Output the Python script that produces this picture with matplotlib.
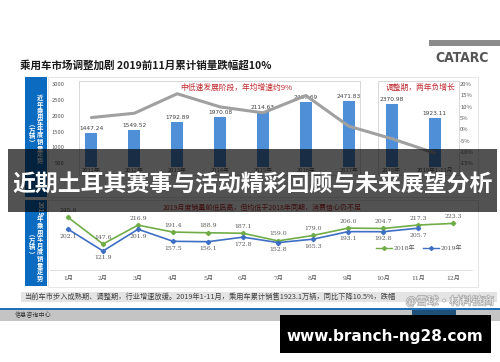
import matplotlib
matplotlib.use('Agg')
import matplotlib.pyplot as plt
from matplotlib.patches import Rectangle
from matplotlib.lines import Line2D
import matplotlib.patheffects as pe

plt.rcParams['font.family'] = ['Noto Sans CJK SC', 'DejaVu Sans']

W, H = 500, 362

# ---------------- data ----------------
years = ['2011年', '2012年', '2013年', '2014年', '2015年', '2016年', '2017年', '2018年', '2019年1-11月']
annual_sales = [1447.24, 1549.52, 1792.89, 1970.08, 2114.63, 2437.69, 2471.83, 2370.98, 1923.11]
annual_growth = [5.2, 7.1, 15.7, 9.9, 7.3, 14.9, 1.4, -4.1, -10.4]
left_ticks = [500, 1000, 1500, 2000, 2500, 3000]
right_ticks = [-15, -10, -5, 0, 5, 10, 15, 20]

months = ['1月', '2月', '3月', '4月', '5月', '6月', '7月', '8月', '9月', '10月', '11月', '12月']
sales_2018 = [245.6, 147.6, 216.9, 191.4, 188.9, 187.1, 159.0, 179.0, 206.0, 204.7, 217.3, 223.3]
sales_2019 = [202.1, 121.9, 201.9, 157.5, 156.1, 172.8, 152.8, 165.3, 193.1, 192.8, 205.7]
series_names = ['2018年', '2019年']

title = '乘用车市场调整加剧 2019前11月累计销量跌幅超10%'
note_growth = '中低速发展阶段，年均增速约9%'
note_adjust = '调整期，两年负增长'
note_monthly = '2019月度销量前低后高，但均低于2018年同期，消费信心仍不足'
side_top = '近年乘用车年度销量走势'
side_bottom = '年乘用车月度销量走势'
unit = '︵万辆︶'
footer = '当前车市步入成熟期、调整期，行业增速放缓。2019年1-11月，乘用车累计销售1923.1万辆，同比下降10.5%，跌幅'
banner = '近期土耳其赛事与活动精彩回顾与未来展望分析'
url = 'www.branch-ng28.com'

SERIF = ['DejaVu Serif', 'Noto Sans CJK SC']

fig = plt.figure(figsize=(5, 3.62), dpi=100)
fig.patch.set_facecolor('white')


def fx(x):
    return x / W


def fy(y):
    return 1 - y / H


def pbox(l, t, r, b):
    return [l / W, 1 - b / H, (r - l) / W, (b - t) / H]


def rect(l, t, r, b, **kw):
    p = Rectangle((fx(l), fy(b)), (r - l) / W, (b - t) / H, transform=fig.transFigure, **kw)
    fig.add_artist(p)
    return p


# ---------------- slide decorations ----------------
rect(429, 40, 500, 46, facecolor='#8c8c8c', edgecolor='none', zorder=1)
fig.text(fx(462), fy(58), 'CATARC', fontsize=10, fontweight='heavy', color='#555555',
         ha='center', va='center', family='DejaVu Sans', fontstretch='condensed')
fig.text(fx(20), fy(65), title, fontsize=7.6, fontweight='bold', color='#1a1a1a', ha='left', va='center')

# panels
rect(48, 77, 478, 197, facecolor='white', edgecolor='#e3e3e3', lw=0.6, zorder=0.5)
rect(48, 200, 478, 287, facecolor='white', edgecolor='#e3e3e3', lw=0.6, zorder=0.5)
# blue side labels
rect(25, 77, 46.5, 197, facecolor='#0a6bc0', edgecolor='none', zorder=1)
rect(25, 200, 46.5, 286, facecolor='#0a6bc0', edgecolor='none', zorder=1)


def vtext(x, y0, s, step, size, **kw):
    for i, ch in enumerate(s):
        fig.text(fx(x), fy(y0 + i * step), ch, fontsize=size, color='white', fontweight='bold',
                 ha='center', va='center', zorder=2, **kw)


vtext(40, 98, side_top, 6.2, 4.6)
vtext(32, 124, unit, 6.0, 4.6)
fig.text(fx(40), fy(209), '2019', fontsize=4.6, color='white', fontweight='bold', rotation=-90,
         ha='center', va='center', zorder=2)
vtext(40, 219, side_bottom, 6.6, 4.6)
vtext(32, 234, unit, 6.5, 4.6)

# ---------------- top chart ----------------
ax1 = fig.add_axes(pbox(70, 84, 456, 167))
ax1.set_zorder(2)
ax1.patch.set_alpha(0)
idx = list(range(len(years)))
ax1.bar(idx, annual_sales, width=0.28, color='#4f8fd8', zorder=2)
for i, v in zip(idx, annual_sales):
    ax1.annotate(f'{v:.2f}', (i, v), xytext=(0, 1.5), textcoords='offset points', ha='center',
                 va='bottom', fontsize=4.2, color='#404040', family='DejaVu Sans')
ax1.set_xlim(-0.5, 8.5)
ax1.set_ylim(383, 3000)
ax1.set_yticks(left_ticks)
ax1.set_yticklabels([str(t) for t in left_ticks])
ax1.set_xticks(idx)
ax1.set_xticklabels(years)
ax1.tick_params(axis='both', length=0, labelsize=4.2, labelcolor='#595959')
ax1.tick_params(axis='x', pad=1)
ax1.tick_params(axis='y', pad=4)
for s in ax1.spines.values():
    s.set_visible(False)

ax2 = ax1.twinx()
ax2.plot(idx, annual_growth, color='#a0a0a0', lw=2.2, zorder=3, solid_capstyle='round')
ax2.set_ylim(-16.6, 20)
ax2.set_yticks(right_ticks)
ax2.set_yticklabels([f'{t}%' for t in right_ticks])
ax2.tick_params(axis='y', length=0, labelsize=4.2, labelcolor='#595959', pad=3)
for s in ax2.spines.values():
    s.set_visible(False)

# dotted period boxes
rect(79, 81, 360, 175, facecolor='none', edgecolor='#a6a6a6', lw=0.6, ls=(0, (1.2, 1.2)), zorder=3)
rect(378, 81, 459, 175, facecolor='none', edgecolor='#a6a6a6', lw=0.6, ls=(0, (1.2, 1.2)), zorder=3)
fig.text(fx(236), fy(87.5), note_growth, fontsize=5.6, color='#c0282d', ha='center', va='center', zorder=4)
fig.text(fx(421), fy(87.5), note_adjust, fontsize=5.6, color='#c0282d', ha='center', va='center', zorder=4)

# ---------------- bottom chart ----------------
ax3 = fig.add_axes(pbox(50, 205, 472, 270))
ax3.set_zorder(2)
ax3.patch.set_alpha(0)
m_idx = list(range(len(months)))
c18, c19 = '#70ad47', '#3f6fc4'
ax3.plot(m_idx, sales_2018, color=c18, lw=1.2, marker='D', ms=2.2, zorder=3)
ax3.plot(m_idx[:len(sales_2019)], sales_2019, color=c19, lw=1.2, marker='D', ms=2.2, zorder=3)
for i, v in enumerate(sales_2018):
    ax3.annotate(f'{v:.1f}', (i, v), xytext=(0, 3.2), textcoords='offset points', ha='center',
                 va='bottom', fontsize=4.4, color='#595959', family=SERIF)
for i, v in enumerate(sales_2019):
    ax3.annotate(f'{v:.1f}', (i, v), xytext=(0, -3.2), textcoords='offset points', ha='center',
                 va='top', fontsize=4.4, color='#595959', family=SERIF)
ax3.set_xlim(-0.514, 11.54)
ax3.set_ylim(52, 291)
ax3.set_yticks([])
ax3.set_xticks(m_idx)
ax3.set_xticklabels(months, family=SERIF)
ax3.tick_params(axis='x', length=0, labelsize=4.4, labelcolor='#595959', pad=4)
for k, s in ax3.spines.items():
    s.set_visible(k == 'bottom')
ax3.spines['bottom'].set_color('#d9d9d9')
ax3.spines['bottom'].set_linewidth(0.6)
handles = [Line2D([], [], color=c18, lw=1.0, marker='D', ms=2),
           Line2D([], [], color=c19, lw=1.0, marker='D', ms=2)]
fig.legend(handles, series_names, loc='center', bbox_to_anchor=(fx(419), fy(248)), ncol=2,
           frameon=False, handlelength=2.6, columnspacing=1.2, handletextpad=0.3,
           prop={'family': SERIF, 'size': 4.4}, labelcolor='#595959')
fig.text(fx(262), fy(208), note_monthly, fontsize=5.0, color='#c0282d', ha='center', va='center', zorder=4)

# ---------------- footer ----------------
rect(21, 292, 497, 302, facecolor='#e4e4e4', edgecolor='none', zorder=1)
fig.text(fx(24), fy(297), footer, fontsize=5.2, color='#404040', ha='left', va='center', zorder=2)
rect(0, 307.5, 500, 310, facecolor='#1f6fb5', edgecolor='none', zorder=1)
rect(0, 310, 500, 321, facecolor='#c4c4c4', edgecolor='none', zorder=1)
fig.text(fx(15), fy(315.5), '信息咨询中心', fontsize=4.4, color='#333333', ha='left', va='center', zorder=2)
rect(412, 310, 456, 318, facecolor='#1f4e79', edgecolor='none', zorder=2)

# watermark
fig.text(fx(450), fy(301), '@雪球·材料链商', fontsize=8, color='white', alpha=0.85, ha='center', va='center',
         zorder=6, path_effects=[pe.withStroke(linewidth=1.0, foreground='#9a9a9a')])

# overlay banner
rect(8, 149, 497, 212, facecolor='black', alpha=0.68, edgecolor='none', zorder=10)
fig.text(fx(253), fy(185), banner, fontsize=16.5, fontweight='bold', color='white', ha='center', va='center',
         zorder=11)

# url box
rect(280, 315, 491, 353, facecolor='black', edgecolor='none', zorder=10)
fig.text(fx(385), fy(336), url, fontsize=11, fontweight='bold', color='white', ha='center', va='center',
         family='DejaVu Sans', zorder=11)

fig.savefig('out.png', dpi=100)
